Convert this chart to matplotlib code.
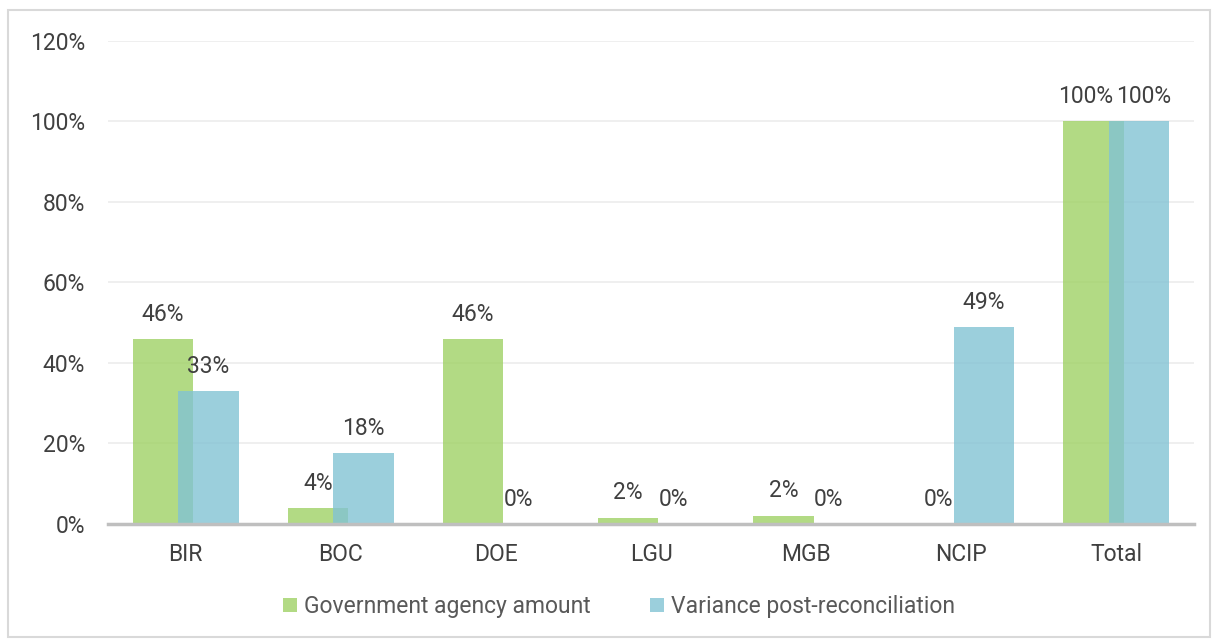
import matplotlib.pyplot as plt
import numpy as np
from matplotlib.patches import Rectangle

plt.rcParams['font.family'] = ['Roboto', 'DejaVu Sans']

categories = ['BIR', 'BOC', 'DOE', 'LGU', 'MGB', 'NCIP', 'Total']
gov_amount = [46, 4, 46, 1.6, 2.1, 0, 100]
variance = [33, 17.6, 0, 0, 0, 49, 100]
yticks = [0, 20, 40, 60, 80, 100, 120]

green = '#9fd165'
blue = '#82c3d4'
text_col = '#404040'

fig = plt.figure(figsize=(12.14, 6.39), dpi=100)
fig.patches.append(Rectangle((0.0066, 0.003), 0.99, 0.981, transform=fig.transFigure,
                             fill=False, edgecolor='#d9d9d9', linewidth=1.5))
ax = fig.add_axes([0.089, 0.180, 0.8945, 0.756])

x = np.arange(len(categories))
w = 0.39
off = 0.147
b1 = ax.bar(x - off, gov_amount, w, color=green, alpha=0.8, label='Government agency amount', zorder=2)
b2 = ax.bar(x + off, variance, w, color=blue, alpha=0.8, label='Variance post-reconciliation', zorder=3)

# labels of the two Total bars are nudged apart so they don't collide
for bars, vals, nudge in ((b1, gov_amount, -6), (b2, variance, 3)):
    for i, (r, v) in enumerate(zip(bars, vals)):
        dx = nudge if categories[i] == 'Total' else 0
        ax.annotate('{:.0f}%'.format(v), (r.get_x() + r.get_width() / 2, v),
                    xytext=(dx, 9.5), textcoords='offset points', ha='center', va='bottom',
                    fontsize=16.5, color=text_col, zorder=4)

ax.set_xlim(-0.5, len(categories) - 0.5)
ax.set_ylim(0, 120)
ax.set_yticks(yticks)
ax.set_yticklabels(['{}%'.format(t) for t in yticks])
ax.set_xticks(x)
ax.set_xticklabels(categories)
ax.tick_params(axis='both', length=0, labelsize=16.5, labelcolor=text_col)
ax.tick_params(axis='y', pad=16.5)
ax.tick_params(axis='x', pad=14)
ax.grid(axis='y', color='#ececec', linewidth=1.2, zorder=0)
ax.set_axisbelow(True)
for s in ['top', 'right', 'left']:
    ax.spines[s].set_visible(False)
ax.spines['bottom'].set_color('#bfbfbf')
ax.spines['bottom'].set_linewidth(2.5)
ax.spines['bottom'].set_zorder(5)

fig.legend(loc='center', bbox_to_anchor=(0.51, 0.051), ncol=2, frameon=False,
           fontsize=16.5, labelcolor='#595959', handlelength=0.6, handleheight=0.6,
           handletextpad=0.3, columnspacing=2.6)

fig.savefig('out.png', dpi=100)
